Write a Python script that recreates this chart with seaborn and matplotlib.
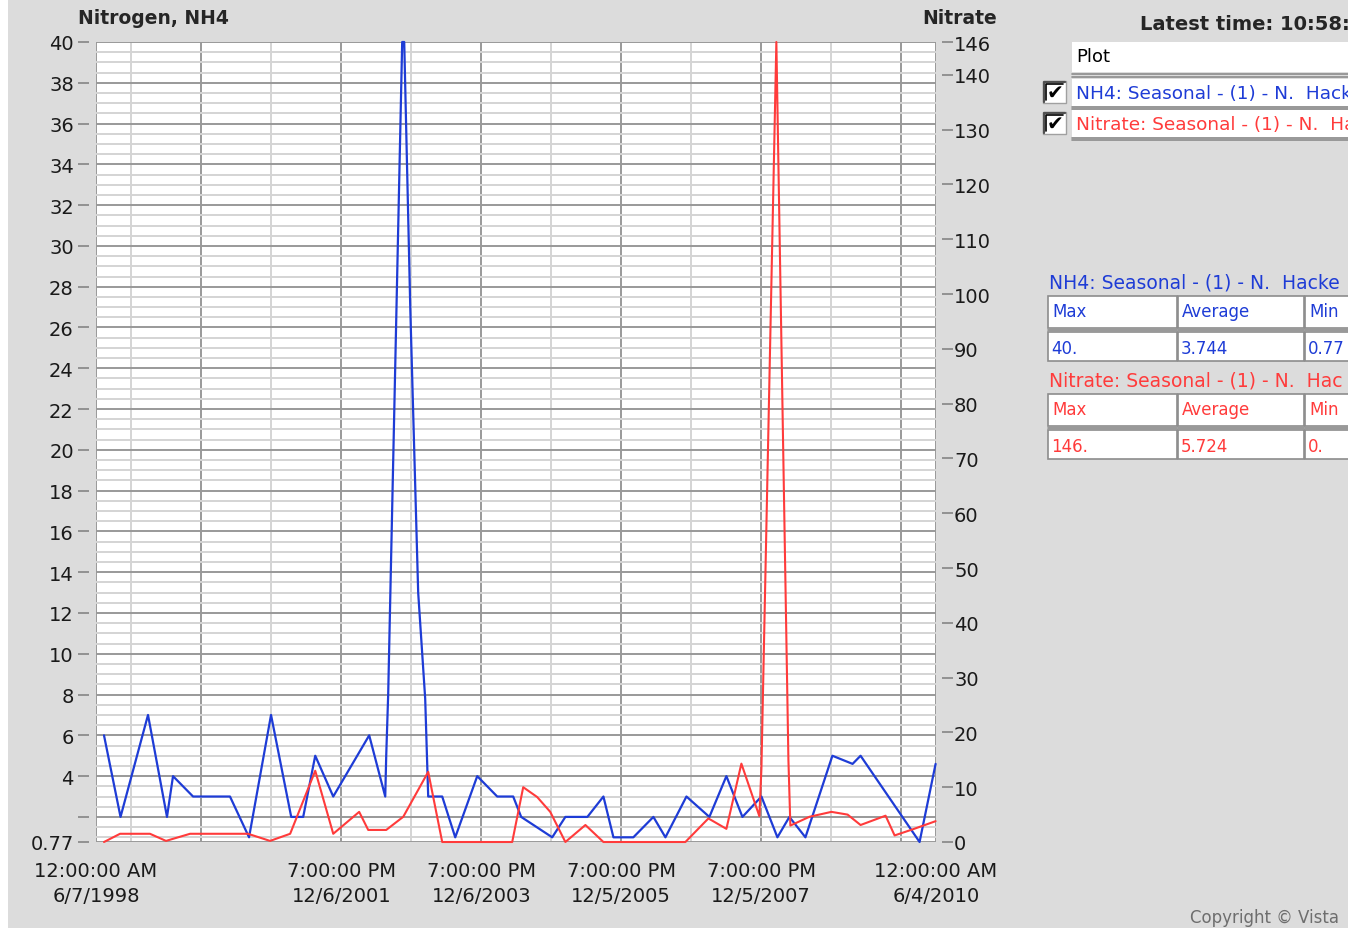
import numpy as np
import pandas as pd
import matplotlib
matplotlib.use('Agg')
import matplotlib.pyplot as plt
from matplotlib.patches import Rectangle
import seaborn as sb
#
# Data (sample time as decimal year)
# NH4 on left axis
nh4_time = [1998.544, 1998.780, 1999.173, 1999.444, 1999.530, 1999.816, 2000.344, 2000.616, 2000.930, 2001.216,
            2001.387, 2001.559, 2001.816, 2002.330, 2002.559, 2002.573, 2002.601, 2002.801, 2002.830, 2002.916,
            2003.030, 2003.130, 2003.173, 2003.373, 2003.559, 2003.873, 2004.159, 2004.387, 2004.501, 2004.944,
            2005.130, 2005.444, 2005.673, 2005.816, 2006.101, 2006.387, 2006.559, 2006.859, 2007.187, 2007.430,
            2007.659, 2007.930, 2008.159, 2008.330, 2008.559, 2008.944, 2009.230, 2009.344, 2010.187, 2010.416]
nh4_value = [6, 2, 7, 2, 4, 3, 3, 1, 7, 2,
             2, 5, 3, 6, 3, 5, 8, 40, 40, 27,
             13, 7.8, 3, 3, 1, 4, 3, 3, 2, 1,
             2, 2, 3, 1, 1, 2, 1, 3, 2, 4,
             2, 3, 1, 2, 1, 5, 4.6, 5, 0.77, 4.6]
# Nitrate on right axis
no3_time = [1998.544, 1998.773, 1999.201, 1999.430, 1999.773, 2000.601, 2000.916, 2001.201, 2001.559, 2001.816,
            2002.187, 2002.316, 2002.573, 2002.816, 2003.173, 2003.373, 2004.373, 2004.530, 2004.730, 2004.916,
            2005.130, 2005.416, 2005.673, 2006.844, 2007.173, 2007.430, 2007.644, 2007.901, 2007.930, 2008.144,
            2008.316, 2008.344, 2008.616, 2008.930, 2009.159, 2009.344, 2009.701, 2009.830, 2010.087, 2010.416]
no3_value = [0, 1.5, 1.5, 0.2, 1.5, 1.5, 0.2, 1.5, 13, 1.5,
             5.5, 2.2, 2.2, 4.6, 12.8, 0, 0, 10, 8.2, 5.5,
             0, 3.1, 0, 0, 4.3, 2.4, 14.3, 4.7, 13.4, 146,
             15, 3, 4.6, 5.5, 5, 3.1, 4.8, 1.2, 2.3, 3.8]
#
# Axis ticks
left_ticks = [0.77, 2, 4, 6, 8, 10, 12, 14, 16, 18, 20, 22, 24, 26, 28, 30, 32, 34, 36, 38, 40]
left_labels = ['0.77', ''] + [str(v) for v in left_ticks[2:]]
right_ticks = [0, 10, 20, 30, 40, 50, 60, 70, 80, 90, 100, 110, 120, 130, 140, 146]
x_ticks = ['1998-06-07 00:00', '1999-12-06 19:00', '2001-12-06 19:00', '2003-12-06 19:00',
           '2005-12-05 19:00', '2007-12-05 19:00', '2009-12-05 19:00', '2010-06-04 00:00']
x_labels = ['12:00:00 AM\n6/7/1998', '', '7:00:00 PM\n12/6/2001', '7:00:00 PM\n12/6/2003',
            '7:00:00 PM\n12/5/2005', '7:00:00 PM\n12/5/2007', '', '12:00:00 AM\n6/4/2010']
x_minor = ['1998-12-06', '2000-12-06', '2002-12-06', '2004-12-05', '2006-12-05', '2008-12-05']
#
# Side panel texts (as far as visible in the panel)
latest = 'Latest time: 10:58:'
nh4_row = 'NH4: Seasonal - (1) - N.  Hack'
no3_row = 'Nitrate: Seasonal - (1) - N.  Ha'
nh4_head = 'NH4: Seasonal - (1) - N.  Hacke'
no3_head = 'Nitrate: Seasonal - (1) - N.  Hac'
nh4_stats = ['40.', '3.744', '0.77']
no3_stats = ['146.', '5.724', '0.']
stat_cols = ['Max', 'Average', 'Min']


def to_dt(y):
    return pd.Timestamp(int(y), 1, 1) + pd.Timedelta(days=(y - int(y)) * 365.25)


df_nh4 = pd.DataFrame({'time': [to_dt(t) for t in nh4_time], 'NH4': nh4_value})
df_no3 = pd.DataFrame({'time': [to_dt(t) for t in no3_time], 'Nitrate': no3_value})
#
sb.set_style('white')
plt.rcParams['font.family'] = ['DejaVu Sans']

BLUE = '#1e3cd6'
RED = '#ff3b3b'
W, H = 1364, 929

fig = plt.figure(figsize=(W / 100, H / 100), dpi=100)
fig.patch.set_facecolor('#dcdcdc')

ax = fig.add_axes([96 / W, 1 - 843 / H, 840 / W, 800 / H])
ax.set_facecolor('white')
sb.lineplot(data=df_nh4, x='time', y='NH4', ax=ax, color=BLUE, lw=1.6, estimator=None, sort=False)
ax2 = ax.twinx()
sb.lineplot(data=df_no3, x='time', y='Nitrate', ax=ax2, color=RED, lw=1.5, estimator=None, sort=False)
for ln in ax.lines + ax2.lines:
    ln.set_clip_on(False)

ax.set_xlim(pd.Timestamp('1998-06-07'), pd.Timestamp('2010-06-04'))
ax.set_ylim(0.77, 40)
ax2.set_ylim(0, 146)

ax.set_xticks(pd.to_datetime(x_ticks))
ax.set_xticklabels(x_labels)
ax.set_xticks(pd.to_datetime(x_minor), minor=True)
ax.set_yticks(left_ticks)
ax.set_yticklabels(left_labels)
ax.set_yticks(np.arange(1.0, 40, 0.5), minor=True)
ax2.set_yticks(right_ticks)
ax2.set_yticklabels([str(v) for v in right_ticks])

ax.grid(which='major', color='#999999', lw=1.4)
ax.grid(which='minor', color='#d4d4d4', lw=1.4)
ax.get_ygridlines()[0].set_color('#d4d4d4')
ax.set_axisbelow(True)

for a in (ax, ax2):
    a.set_xlabel('')
    a.set_ylabel('')
    for s in a.spines.values():
        s.set_visible(False)
ax.spines['left'].set_position(('outward', 5))
ax.spines['bottom'].set_position(('outward', 4))
ax2.spines['right'].set_position(('outward', 4))

ax.tick_params(axis='both', which='major', direction='out', length=8, width=1.3, color='#8c8c8c',
               labelsize=14, labelcolor='#1a1a1a')
ax.tick_params(axis='y', which='major', pad=3)
ax.tick_params(axis='x', which='major', pad=2)
ax.tick_params(axis='both', which='minor', length=0)
ax2.tick_params(axis='y', which='major', direction='out', length=8, width=1.3, color='#8c8c8c',
                labelsize=14, labelcolor='#1a1a1a', pad=1)
for t in ax.get_xticklabels():
    t.set_linespacing(1.35)

# Titles
fig.text(78 / W, 1 - 18 / H, 'Nitrogen, NH4', fontsize=13.5, fontweight='bold', va='center', ha='left')
fig.text(922 / W, 1 - 18 / H, 'Nitrate', fontsize=13.5, fontweight='bold', va='center', ha='left')

# Side panel drawn in pixel coordinates
pan = fig.add_axes([0, 0, 1, 1])
pan.set_xlim(0, W)
pan.set_ylim(H, 0)
pan.axis('off')
pan.set_zorder(5)

pan.text(1140, 24, latest, fontsize=14, fontweight='bold', va='center', ha='left')

# legend list
pan.add_patch(Rectangle((1072, 43), 290, 30, fc='white', ec='none'))
pan.text(1076, 57, 'Plot', fontsize=13, va='center', ha='left', color='black')
for yy in (74.5, 77.5):
    pan.plot([1072, 1362], [yy, yy], color='#8c8c8c', lw=1.2)
for top, name, col in [(80, nh4_row, BLUE), (111, no3_row, RED)]:
    pan.add_patch(Rectangle((1072, top), 290, 27, fc='white', ec='none'))
    pan.plot([1072, 1362], [top + 27.5, top + 27.5], color='#8c8c8c', lw=1.2)
    pan.plot([1072, 1362], [top + 30, top + 30], color='#8c8c8c', lw=1.2)
    pan.text(1076, top + 14, name, fontsize=13.3, va='center', ha='left', color=col)
    # checkbox
    pan.add_patch(Rectangle((1043, top + 2), 23, 22, fc='white', ec='#a0a0a0', lw=1))
    pan.plot([1044, 1044, 1065], [top + 23, top + 3, top + 3], color='#505050', lw=1.6)
    pan.plot([1046, 1046, 1063], [top + 21, top + 5, top + 5], color='black', lw=1.2)
    pan.text(1055.5, top + 13.5, '\u2714', fontsize=14.5, va='center', ha='center', color='black')

# stats tables
for top, name, stats, col in [(268, nh4_head, nh4_stats, BLUE), (366, no3_head, no3_stats, RED)]:
    pan.text(1049, top + 15, name, fontsize=13.5, va='center', ha='left', color=col)
    for (x0, x1), head, val in zip([(1048, 1177), (1178, 1304), (1305, 1362)], stat_cols, stats):
        pan.add_patch(Rectangle((x0, top + 29), x1 - x0, 32, fc='white', ec='#8c8c8c', lw=1.2))
        pan.add_patch(Rectangle((x0, top + 65), x1 - x0, 29, fc='white', ec='#8c8c8c', lw=1.2))
        pan.plot([x0, x1], [top + 62.5, top + 62.5], color='#8c8c8c', lw=1.2)
        pan.text(x0 + 4, top + 44, head, fontsize=12, va='center', ha='left', color=col)
        pan.text(x0 + 3, top + 81, val, fontsize=12, va='center', ha='left', color=col)

pan.text(1190, 918, 'Copyright \u00a9 Vista', fontsize=12, va='center', ha='left', color='#6e6e6e')

# white frame strips at the edges of the screenshot
pan.add_patch(Rectangle((0, 0), 8, H, fc='white', ec='none', zorder=20))
pan.add_patch(Rectangle((1348, 0), 16, H, fc='white', ec='none', zorder=20))

fig.savefig('out.png', dpi=100, facecolor=fig.get_facecolor())
